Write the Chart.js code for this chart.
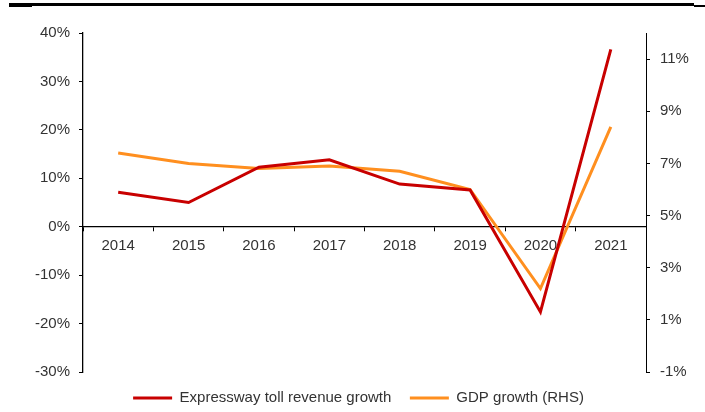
<!DOCTYPE html>
<html>
<head>
<meta charset="utf-8">
<script src="https://cdn.jsdelivr.net/npm/chart.js@4/dist/chart.umd.min.js"></script>
<style>
html,body{margin:0;padding:0;background:#fff;}
#wrap{width:705px;height:412px;position:relative;}
</style>
</head>
<body>
<div id="wrap"><canvas id="c" width="705" height="412"></canvas></div>
<script>
const categories = ['2014','2015','2016','2017','2018','2019','2020','2021'];
const tollRevenueGrowth = [7.1, 5.0, 12.3, 13.8, 8.8, 7.6, -17.6, 36.6];
const gdpGrowth = [7.4, 7.0, 6.8, 6.9, 6.7, 6.0, 2.2, 8.4];
const leftTicks = [-30, -20, -10, 0, 10, 20, 30, 40];
const rightTicks = [-1, 1, 3, 5, 7, 9, 11];
const seriesNames = ['Expressway toll revenue growth', 'GDP growth (RHS)'];

const FONT = {family: '"Liberation Sans", Arial, sans-serif', size: 15};
const TXT = '#333333';

const topRule = {
  id: 'topRule',
  afterDraw(chart) {
    const ctx = chart.ctx;
    ctx.save();
    ctx.fillStyle = '#000';
    ctx.fillRect(9, 3, 685, 3);
    ctx.fillRect(9, 3, 23, 4);
    ctx.fillRect(694, 5, 11, 2);
    ctx.restore();
  }
};

new Chart(document.getElementById('c'), {
  type: 'line',
  data: {
    labels: categories,
    datasets: [
      {label: seriesNames[0], data: tollRevenueGrowth, yAxisID: 'y', borderColor: '#C80000', backgroundColor: '#C80000', borderWidth: 3, pointRadius: 0, tension: 0},
      {label: seriesNames[1], data: gdpGrowth, yAxisID: 'y1', borderColor: '#FF8F1F', backgroundColor: '#FF8F1F', borderWidth: 3, pointRadius: 0, tension: 0}
    ]
  },
  options: {
    responsive: false,
    animation: false,
    layout: {padding: {top: 33, left: 12, right: 0, bottom: 0}},
    plugins: {
      legend: {
        position: 'bottom',
        maxHeight: 40,
        labels: {
          usePointStyle: true,
          pointStyle: 'line',
          pointStyleWidth: 39,
          padding: 18.5,
          color: TXT,
          font: FONT
        }
      },
      tooltip: {enabled: false}
    },
    scales: {
      x: {
        type: 'category',
        position: {y: 0},
        offset: true,
        afterFit(s) { s.height = 0; },
        grid: {display: true, drawOnChartArea: false, drawTicks: true, tickLength: 4, color: '#000', offset: true},
        border: {display: true, color: '#000', width: 1.3},
        ticks: {color: TXT, font: FONT, padding: 6, maxRotation: 0}
      },
      y: {
        position: 'left',
        min: -30, max: 40,
        afterFit(s) { s.width = 71; },
        afterBuildTicks(s) { s.ticks = leftTicks.map(v => ({value: v})); },
        grid: {display: true, drawOnChartArea: false, drawTicks: true, tickLength: 4, color: '#000'},
        border: {display: true, color: '#000', width: 1.3},
        ticks: {color: TXT, font: FONT, padding: 9, callback: v => v + '%'}
      },
      y1: {
        position: 'right',
        min: -1, max: 12,
        afterFit(s) { s.width = 59; },
        afterBuildTicks(s) { s.ticks = rightTicks.map(v => ({value: v})); },
        grid: {display: true, drawOnChartArea: false, drawTicks: true, tickLength: 4, color: '#000'},
        border: {display: true, color: '#000', width: 1},
        ticks: {color: TXT, font: FONT, padding: 10, callback: v => v + '%'}
      }
    }
  },
  plugins: [topRule]
});
</script>
</body>
</html>
